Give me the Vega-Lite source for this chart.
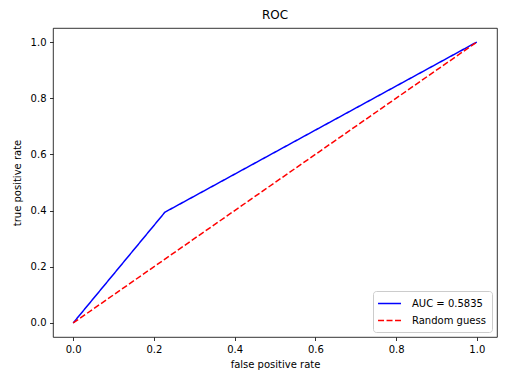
{
  "$schema": "https://vega.github.io/schema/vega-lite/v6.json",
  "width": 444,
  "height": 309,
  "autosize": {"type": "none"},
  "padding": {"left": 53, "top": 28, "right": 15, "bottom": 46},
  "background": "white",
  "title": {"text": "ROC", "fontSize": 12, "fontWeight": "normal", "font": "DejaVu Sans", "color": "black", "offset": 6},
  "data": {"values": [
    {"series": "AUC = 0.5835", "fpr": 0, "tpr": 0, "o": 0},
    {"series": "AUC = 0.5835", "fpr": 0.2273, "tpr": 0.3943, "o": 1},
    {"series": "AUC = 0.5835", "fpr": 1, "tpr": 1, "o": 2},
    {"series": "Random guess", "fpr": 0, "tpr": 0, "o": 0},
    {"series": "Random guess", "fpr": 1, "tpr": 1, "o": 1}
  ]},
  "mark": {"type": "line", "strokeWidth": 1.5},
  "encoding": {
    "x": {"field": "fpr", "type": "quantitative", "scale": {"domain": [-0.05, 1.05], "nice": false, "zero": false},
      "axis": {"values": [0, 0.2, 0.4, 0.6, 0.8, 1.0], "format": ".1f", "title": "false positive rate"}},
    "y": {"field": "tpr", "type": "quantitative", "scale": {"domain": [-0.05, 1.05], "nice": false, "zero": false},
      "axis": {"values": [0, 0.2, 0.4, 0.6, 0.8, 1.0], "format": ".1f", "title": "true positive rate", "titlePadding": 8}},
    "order": {"field": "o"},
    "color": {"field": "series", "type": "nominal", "scale": {"domain": ["AUC = 0.5835", "Random guess"], "range": ["blue", "red"]},
      "legend": {"title": null, "orient": "bottom-right", "offset": 5}},
    "strokeDash": {"field": "series", "type": "nominal", "scale": {"domain": ["AUC = 0.5835", "Random guess"], "range": [[1, 0], [6, 2.5]]}, "legend": null}
  },
  "config": {
    "view": {"stroke": "black", "strokeWidth": 0.8},
    "axis": {"domain": false, "grid": false, "tickColor": "black", "tickSize": 3.5, "tickWidth": 0.8,
      "labelFont": "DejaVu Sans", "labelFontSize": 10, "labelColor": "black", "labelPadding": 3.5,
      "titleFont": "DejaVu Sans", "titleFontSize": 10, "titleFontWeight": "normal", "titleColor": "black", "titlePadding": 5},
    "legend": {"symbolType": "M-1.3,0H2.7", "symbolSize": 132, "symbolStrokeWidth": 1.5, "labelFont": "DejaVu Sans", "labelFontSize": 10, "labelColor": "black", "labelAlign": "left",
      "strokeColor": "#cccccc", "fillColor": "rgba(255,255,255,0.8)", "cornerRadius": 3, "padding": 6, "rowPadding": 5, "labelOffset": 20}
  }
}
